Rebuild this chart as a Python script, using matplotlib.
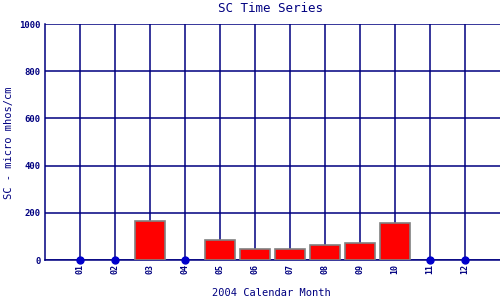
import numpy as np
import matplotlib
matplotlib.use('Agg')
import matplotlib.pyplot as plt

months = ['01', '02', '03', '04', '05', '06', '07', '08', '09', '10', '11', '12']
sc_values = [np.nan, np.nan, 165, np.nan, 83, 48, 45, 62, 71, 157, np.nan, np.nan]
y_ticks = [0, 200, 400, 600, 800, 1000]

navy = '#000080'
plt.rcParams['font.family'] = 'DejaVu Sans Mono'

fig = plt.figure(figsize=(5, 3), dpi=100)
ax = fig.add_axes([0.09, 0.1333, 0.91, 0.7867])

x = np.arange(1, len(months) + 1)
vals = np.array(sc_values, dtype=float)
has = ~np.isnan(vals)

ax.bar(x[has], vals[has], width=0.86, color='#ff0000', edgecolor='#808080',
       linewidth=1.2, zorder=3)
ax.plot(x[~has], np.zeros((~has).sum()), 'o', color='#0000cc', markersize=5,
        zorder=4, clip_on=False)

ax.set_xlim(0, 13)
ax.set_ylim(0, 1000)
ax.set_xticks(x)
ax.set_xticklabels(months, rotation=90, fontsize=6, color=navy, fontweight='bold')
ax.set_yticks(y_ticks)
ax.set_yticklabels([str(t) for t in y_ticks], fontsize=6.5, color=navy, fontweight='bold')
ax.tick_params(length=0, pad=3)
ax.grid(True, color=navy, linewidth=1.1, zorder=1)
ax.set_axisbelow(True)
for side in ['top', 'right']:
    ax.spines[side].set_visible(False)
ax.spines['left'].set_color(navy)
ax.spines['bottom'].set_color(navy)
ax.spines['left'].set_linewidth(1.1)
ax.spines['bottom'].set_linewidth(1.1)

fig.text(0.54, 0.97, 'SC Time Series', fontsize=9, color=navy, ha='center', va='center')
fig.text(0.542, 0.023, '2004 Calendar Month', fontsize=7.5, color=navy, ha='center', va='center')
fig.text(0.018, 0.523, 'SC - micro mhos/cm', fontsize=7.5, color=navy, ha='center',
         va='center', rotation=90)

fig.savefig('out.png', dpi=100)
